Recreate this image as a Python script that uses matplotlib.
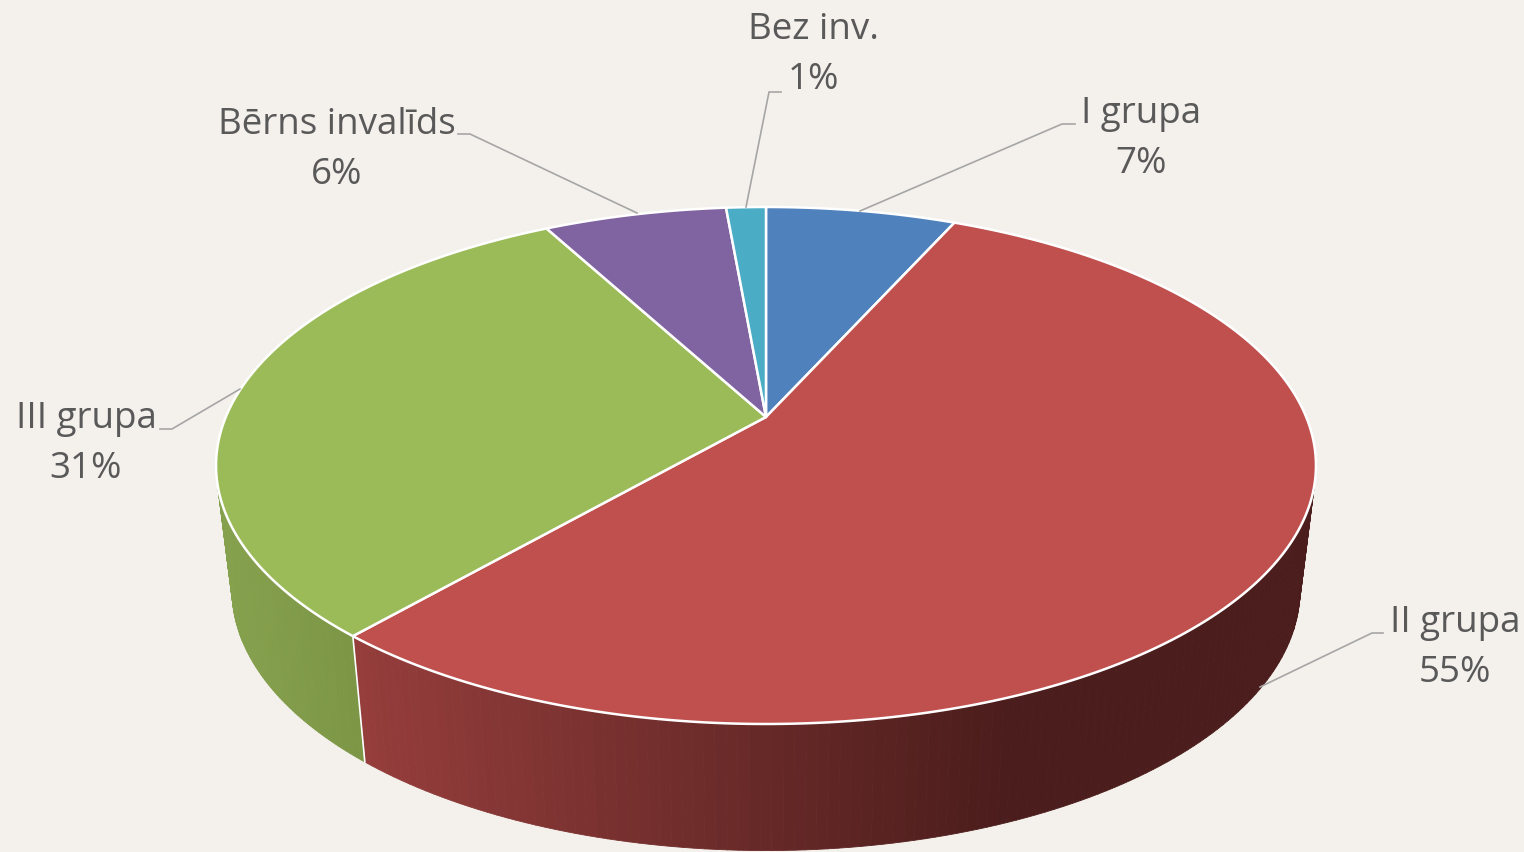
import numpy as np
import matplotlib
matplotlib.use("Agg")
import matplotlib.pyplot as plt
from matplotlib.collections import PolyCollection
from matplotlib.patches import Polygon

categories = ["I grupa", "II grupa", "III grupa", "Bērns invalīds", "Bez inv."]
values = [6.7, 54.7, 30.75, 6.45, 1.4]
top_colors = ["#4F81BD", "#C0504D", "#9BBB59", "#8064A2", "#4BACC6"]
# wall shading: colour at the left and right end of the shaded range, by screen x
wall_shades = [None, ((150, 62, 60), (75, 29, 28)), ((134, 161, 78), (124, 150, 70)), None, None]
wall_x_range = [(0, 1), (363, 1003), (232, 363), (0, 1), (0, 1)]
label_xy = [(1141, 139), (1455, 648), (86, 444), (337, 150), (813, 55)]
leaders = [
    [(860, 212), (1062, 125), (1075, 125)],
    [(1260, 688), (1372, 634), (1383, 634)],
    [(240, 390), (172, 430), (160, 430)],
    [(637, 214), (470, 135), (458, 135)],
    [(746, 208), (769, 93), (781, 93)],
]
BG = "#F4F1EC"
TEXT = "#595959"
LEADER = "#A6A6A6"

# perspective ellipse of the pie top
CX, CY = 766.0, 418.0
PERSP, A, B = -0.1876, 540.2, 249.4
TOP_MID_Y, WALL_MID_Y, WALL_SX, WALL_SY = 465.5, 590.0, 0.971, 1.008


def rim(theta):
    u, v = np.sin(theta), -np.cos(theta)
    w = 1 + PERSP * v
    return CX + A * u / w, CY + B * v / w


def base(x, y):
    return CX + WALL_SX * (x - CX), WALL_MID_Y + WALL_SY * (y - TOP_MID_Y)


fig = plt.figure(figsize=(15.24, 8.53), dpi=100, facecolor=BG)
ax = fig.add_axes([0, 0, 1, 1])
ax.set_xlim(0, 1524)
ax.set_ylim(853, 0)
ax.axis("off")

edges = np.concatenate([[0], np.cumsum(values)]) / sum(values) * 2 * np.pi

# walls
for i, shade in enumerate(wall_shades):
    if shade is None:
        continue
    t = np.linspace(edges[i], edges[i + 1], 200)
    t = t[-np.cos(t) > -0.25]
    x, y = rim(t)
    bx, by = base(x, y)
    quads, cols = [], []
    c0, c1 = np.array(shade[0]) / 255, np.array(shade[1]) / 255
    lo, hi = wall_x_range[i]
    for k in range(len(t) - 1):
        f = np.clip((bx[k] - lo) / (hi - lo), 0, 1)
        quads.append([(x[k], y[k]), (x[k + 1], y[k + 1]), (bx[k + 1], by[k + 1]), (bx[k], by[k])])
        cols.append(c0 + (c1 - c0) * f)
    ax.add_collection(PolyCollection(quads, facecolors=cols, edgecolors=cols, linewidths=0.6, zorder=2))

# white seam between the two visible walls
sx, sy = rim(np.array([edges[2]]))
bsx, bsy = base(sx, sy)
ax.plot([sx[0], bsx[0]], [sy[0], bsy[0]], color="white", lw=1.2, zorder=3)

# top faces
for i, col in enumerate(top_colors):
    t = np.linspace(edges[i], edges[i + 1], 300)
    x, y = rim(t)
    pts = np.column_stack([np.r_[CX, x], np.r_[CY, y]])
    ax.add_patch(Polygon(pts, closed=True, facecolor=col, edgecolor="white", lw=1.8, joinstyle="round", zorder=4))

# leaders and labels
for i, name in enumerate(categories):
    lx, ly = zip(*leaders[i])
    ax.plot(lx, ly, color=LEADER, lw=1.2, zorder=5, solid_joinstyle="miter")
    ax.text(label_xy[i][0], label_xy[i][1], f"{name}\n{round(values[i])}%", ha="center", va="center",
            fontsize=26.5, family="Open Sans", color=TEXT, linespacing=1.54, zorder=6)

fig.savefig("out.png", dpi=100, facecolor=BG)
